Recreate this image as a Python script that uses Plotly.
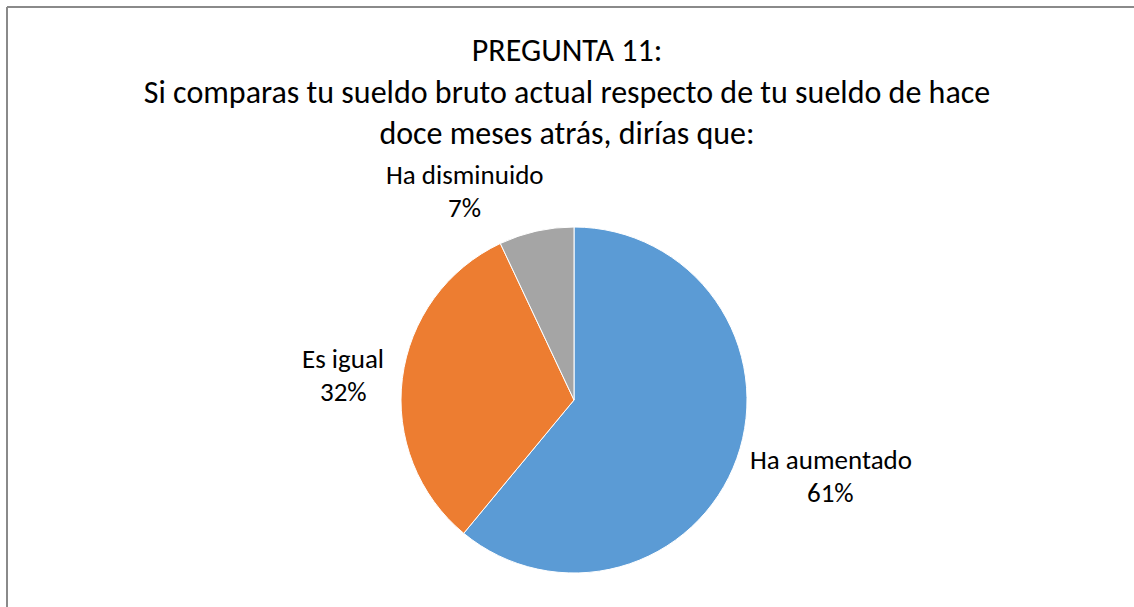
import math
import plotly.graph_objects as go

# ---- data ----
categories = ["Ha aumentado", "Es igual", "Ha disminuido"]
values = [61, 32, 7]
colors = ["#5B9BD5", "#ED7D31", "#A5A5A5"]
title_lines = [
    "PREGUNTA 11:",
    "Si comparas tu sueldo bruto actual respecto de tu sueldo de hace",
    "doce meses atrás, dirías que:",
]

# ---- layout constants (pixels) ----
W, H = 1134, 607
CX, CY, R = 574, 400, 173
FONT = "Carlito, Lato, sans-serif"
LABEL_SIZE = 27
TITLE_SIZE = 32
GAP = 15
LINE_GAP = 33


def text_width(s, size):
    w = 0.0
    for ch in s:
        if ch in "ijl.,:;|'!":
            w += 0.24
        elif ch in "frt":
            w += 0.34
        elif ch == " ":
            w += 0.25
        elif ch == "m":
            w += 0.82
        elif ch == "w":
            w += 0.75
        elif ch.isupper():
            w += 0.65
        elif ch.isdigit():
            w += 0.55
        elif ch == "%":
            w += 0.8
        else:
            w += 0.52
    return 0.95 * w * size


def clamp(v):
    return max(-1.0, min(1.0, v))


fig = go.Figure()
fig.add_trace(go.Pie(
    labels=categories,
    values=values,
    marker=dict(colors=colors, line=dict(color="white", width=1)),
    sort=False,
    direction="clockwise",
    rotation=0,
    textinfo="none",
    hoverinfo="label+percent",
    showlegend=False,
    domain=dict(x=[(CX - R) / W, (CX + R) / W], y=[(H - CY - R) / H, (H - CY + R) / H]),
))

total = sum(values)
cum = 0.0
annotations = []
for name, v in zip(categories, values):
    mid = (cum + v / 2) / total * 2 * math.pi
    cum += v
    dx, dy = math.sin(mid), -math.cos(mid)
    pct = f"{v / total * 100:.0f}%"
    w = max(text_width(name, LABEL_SIZE), text_width(pct, LABEL_SIZE))
    h = LINE_GAP + LABEL_SIZE * 0.7
    kx = clamp(4 * dx)
    ky = clamp(4.3 * dy * abs(dy))
    px = CX + (R + GAP) * dx + kx * w / 2
    py = CY + (R + GAP) * dy + ky * h / 2
    for txt, off in ((name, -LINE_GAP / 2), (pct, LINE_GAP / 2)):
        annotations.append(dict(
            text=txt, x=px / W, y=1 - (py + off) / H, xref="paper", yref="paper",
            xanchor="center", yanchor="middle", showarrow=False,
            font=dict(family=FONT, size=LABEL_SIZE, color="#000000"),
        ))

fig.update_layout(
    width=W, height=H,
    margin=dict(l=0, r=0, t=0, b=0),
    paper_bgcolor="white", plot_bgcolor="white",
    title=dict(
        text="<br>".join(title_lines),
        x=0.5, xanchor="center", xref="paper",
        y=1 - 61 / H, yanchor="middle", yref="paper",
        font=dict(family=FONT, size=TITLE_SIZE, color="#000000"),
    ),
    annotations=annotations,
    shapes=[
        dict(type="line", xref="paper", yref="paper", x0=7 / W, x1=1.0,
             y0=1 - 7 / H, y1=1 - 7 / H, line=dict(color="#8A8A8A", width=2)),
        dict(type="line", xref="paper", yref="paper", x0=7 / W, x1=7 / W,
             y0=0.0, y1=1 - 7 / H, line=dict(color="#8A8A8A", width=2)),
    ],
)

fig.write_html(
    "out.html",
    config={"displayModeBar": False},
    post_script="document.body.style.margin='0';document.body.style.overflow='hidden';",
)
